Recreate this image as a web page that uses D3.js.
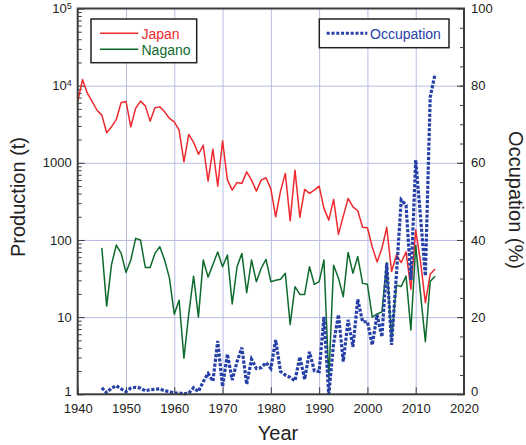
<!DOCTYPE html>
<html>
<head>
<meta charset="utf-8">
<script src="https://cdn.jsdelivr.net/npm/d3@7"></script>
<style>
  body { margin: 0; background: #fff; }
  text { font-family: "Liberation Sans", Arial, Helvetica, sans-serif; fill: #222; }
</style>
</head>
<body>
<div id="wrapper"></div>
<script>

// production (t), Japan from 1940, Nagano from 1945
const japanStart = 1940
const japan = [6200, 12000, 8000, 6200, 4800, 4150, 2450, 2930, 3650, 6060,
  6240, 2930, 5070, 6300, 5470, 3470, 5160, 5310, 4580, 3760,
  3400, 2650, 1030, 2330, 1840, 1290, 1690, 580, 1500, 500,
  1930, 600, 443, 557, 541, 764, 597, 430, 597, 640,
  460, 200, 430, 729, 177, 804, 196, 452, 402, 443,
  499, 257, 181, 336, 118, 204, 346, 269, 239, 146,
  144, 81, 52, 78, 146, 39, 64, 51, 70, 23,
  135, 52, 15.4, 36, 42]

const naganoStart = 1945
const nagano = [79, 13.9, 48, 86, 67, 38, 55, 105, 100, 44,
  44, 67, 82, 55, 32, 10.9, 16.6, 2.93, 11, 34,
  10, 55, 33, 48, 70, 45, 64, 14.8, 45, 67,
  20.7, 55, 28.8, 43, 56, 28.8, 30, 31, 37, 8,
  24.8, 19.7, 19.7, 45, 26.6, 28.8, 55, 1.6, 47, 32,
  18.4, 69, 37, 61, 27.4, 26.6, 10, 11, 11.7, 51,
  5.1, 26, 25, 34, 6.8, 85, 20, 4.8, 29, 34]

// occupation (%) from 1945
const occupationStart = 1945
const occupation = [1.7, 0.4, 1.6, 2.2, 1.4, 0.7, 1.6, 1.8, 1.6, 0.9,
  1.2, 1.3, 1.4, 0.9, 0.7, 0.3, 0.3, 0.1, 0.3, 1.7,
  0.7, 3.3, 5.4, 3.4, 13.8, 2.0, 10.4, 3.7, 8.5, 12.1,
  2.6, 9.1, 6.7, 6.9, 8.2, 6.7, 14.1, 5.9, 5.0, 4.4,
  3.5, 9.7, 3.9, 11.0, 6.1, 5.9, 20.1, 0, 13.2, 20.6,
  8.5, 19.3, 12.3, 24.6, 18.8, 18.8, 12.8, 20.6, 14.9, 34.0,
  12.8, 31, 50.4, 49, 29.6, 60.7, 46, 30.7, 77, 83]

const yearTicks = [1940, 1950, 1960, 1970, 1980, 1990, 2000, 2010, 2020]
const prodTicks = [1, 10, 100, 1000, 1e4, 1e5]
const occTicks = [0, 20, 40, 60, 80, 100]

const dimensions = {
  width: 526,
  height: 445,
  left: 77.7,
  right: 464,
  top: 8.5,
  bottom: 394.3,
}

const red = "#ee2a2e"
const green = "#0d6a2c"
const blue = "#2640a8"
const gridColor = "#b8bce6"
const frameColor = "#3c3c3c"

const svg = d3.select("#wrapper")
  .append("svg")
  .attr("width", dimensions.width)
  .attr("height", dimensions.height)

const x = d3.scaleLinear().domain([1940, 2020]).range([dimensions.left, dimensions.right])
const yL = d3.scaleLog().domain([1, 1e5]).range([dimensions.bottom, dimensions.top])
const yR = d3.scaleLinear().domain([0, 100]).range([dimensions.bottom, dimensions.top])

const plotW = dimensions.right - dimensions.left
const plotH = dimensions.bottom - dimensions.top

// gridlines
const gridY = svg.append("g")
  .attr("transform", `translate(${dimensions.left},0)`)
  .call(d3.axisLeft(yL).tickValues([10, 100, 1000, 1e4]).tickSize(-plotW).tickFormat(""))
gridY.select(".domain").remove()
gridY.selectAll("line").attr("class", "grid").attr("stroke", gridColor).attr("stroke-width", 1)

const gridX = svg.append("g")
  .attr("transform", `translate(0,${dimensions.bottom})`)
  .call(d3.axisBottom(x).tickValues(yearTicks.slice(1, -1)).tickSize(-plotH).tickFormat(""))
gridX.select(".domain").remove()
gridX.selectAll("line").attr("class", "grid").attr("stroke", gridColor).attr("stroke-width", 1)

// minor ticks on left axis
let minor = []
for (let d = 1; d < 1e5; d *= 10) {
  for (let k = 2; k <= 9; k++) minor.push(d * k)
}
const leftMinor = svg.append("g")
  .attr("transform", `translate(${dimensions.left},0)`)
  .call(d3.axisLeft(yL).tickValues(minor).tickSize(-4).tickFormat(""))
leftMinor.select(".domain").remove()

// left axis
const leftAxis = svg.append("g")
  .attr("transform", `translate(${dimensions.left},0)`)
  .call(d3.axisLeft(yL).tickValues(prodTicks).tickSize(-7).tickPadding(6)
    .tickFormat(d => d >= 1e4 ? "" : d3.format("d")(d)))
leftAxis.select(".domain").remove()
leftAxis.selectAll("text")
  .style("font-size", "13px")
  .each(function(d) {
    if (d >= 1e4) {
      const t = d3.select(this)
      t.append("tspan").text("10")
      t.append("tspan").attr("dy", "-0.45em").style("font-size", "9px").text(Math.round(Math.log10(d)))
    }
  })
// lowest label sits a bit above the corner
leftAxis.selectAll("text").filter(d => d === 1).attr("dy", "0.1em")

// right axis
const rightMinor = svg.append("g")
  .attr("transform", `translate(${dimensions.right},0)`)
  .call(d3.axisRight(yR).tickValues(d3.range(5, 100, 5)).tickSize(-4).tickFormat(""))
rightMinor.select(".domain").remove()

const rightAxis = svg.append("g")
  .attr("transform", `translate(${dimensions.right},0)`)
  .call(d3.axisRight(yR).tickValues(occTicks).tickSize(-7).tickPadding(7))
rightAxis.select(".domain").remove()
rightAxis.selectAll("text").style("font-size", "13px")
rightAxis.selectAll("text").filter(d => d === 0).attr("dy", "0.1em")

// bottom axis
const bottomAxis = svg.append("g")
  .attr("transform", `translate(0,${dimensions.bottom})`)
  .call(d3.axisBottom(x).tickValues(yearTicks).tickSize(-7).tickPadding(9)
    .tickFormat(d3.format("d")))
bottomAxis.select(".domain").remove()
bottomAxis.selectAll("text").style("font-size", "13px")

svg.selectAll(".tick line").filter(function() {
  return d3.select(this).attr("class") !== "grid"
}).attr("stroke", frameColor).attr("stroke-width", 1)
svg.selectAll(".tick text").attr("fill", "#222")

// series lines
const lineL = d3.line().x(d => x(d.year)).y(d => yL(d.value))
const lineR = d3.line().x(d => x(d.year)).y(d => yR(d.value))

const toPoints = (arr, start) => arr.map((v, i) => ({ year: start + i, value: v }))

svg.append("path")
  .datum(toPoints(japan, japanStart))
  .attr("d", lineL)
  .attr("fill", "none")
  .attr("stroke", red)
  .attr("stroke-width", 1.5)
  .attr("stroke-linejoin", "round")

svg.append("path")
  .datum(toPoints(nagano, naganoStart))
  .attr("d", lineL)
  .attr("fill", "none")
  .attr("stroke", green)
  .attr("stroke-width", 1.5)
  .attr("stroke-linejoin", "round")

svg.append("path")
  .datum(toPoints(occupation, occupationStart))
  .attr("d", lineR)
  .attr("fill", "none")
  .attr("stroke", blue)
  .attr("stroke-width", 3.2)
  .attr("stroke-dasharray", "3.2,1.6")

// frame
svg.append("rect")
  .attr("x", dimensions.left)
  .attr("y", dimensions.top)
  .attr("width", plotW)
  .attr("height", plotH)
  .attr("fill", "none")
  .attr("stroke", frameColor)
  .attr("stroke-width", 2)

// legends
const leg1 = svg.append("g")
leg1.append("rect")
  .attr("x", 91).attr("y", 19).attr("width", 105.7).attr("height", 43.7)
  .attr("fill", "#fff").attr("stroke", "#222").attr("stroke-width", 1.5)
const legItems = [
  { name: "Japan", color: red, y: 33.3 },
  { name: "Nagano", color: green, y: 49.3 },
]
legItems.forEach(d => {
  leg1.append("line")
    .attr("x1", 100).attr("x2", 138.3).attr("y1", d.y).attr("y2", d.y)
    .attr("stroke", d.color).attr("stroke-width", 1.5)
  leg1.append("text")
    .attr("x", 141.5).attr("y", d.y + 5.2)
    .style("font-size", "14px")
    .style("fill", d.color)
    .text(d.name)
})

const leg2 = svg.append("g")
leg2.append("rect")
  .attr("x", 319.3).attr("y", 19).attr("width", 129.7).attr("height", 28.7)
  .attr("fill", "#fff").attr("stroke", "#222").attr("stroke-width", 1.5)
leg2.append("line")
  .attr("x1", 326.7).attr("x2", 367.3).attr("y1", 33.3).attr("y2", 33.3)
  .attr("stroke", blue).attr("stroke-width", 3).attr("stroke-dasharray", "3,1.8")
leg2.append("text")
  .attr("x", 370).attr("y", 38.5)
  .style("font-size", "14px")
  .style("fill", blue)
  .text("Occupation")

// axis titles
svg.append("text")
  .attr("transform", "translate(24.5,197) rotate(-90)")
  .attr("text-anchor", "middle")
  .style("font-size", "20px")
  .text("Production (t)")

svg.append("text")
  .attr("transform", "translate(508.5,200) rotate(90)")
  .attr("text-anchor", "middle")
  .style("font-size", "20px")
  .text("Occupation (%)")

svg.append("text")
  .attr("x", 278)
  .attr("y", 440)
  .attr("text-anchor", "middle")
  .style("font-size", "20px")
  .text("Year")

</script>
</body>
</html>
